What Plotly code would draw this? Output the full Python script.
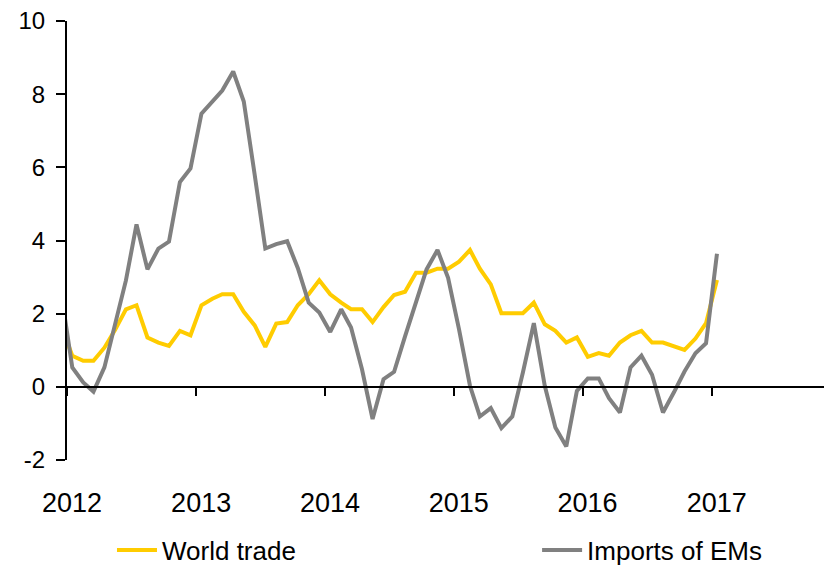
import pandas as pd
import plotly.graph_objects as go

# Monthly observations (mid-month), Dec 2011 .. Jan 2017
dates = pd.date_range("2011-12-01", "2017-01-01", freq="MS") + pd.Timedelta(days=15)

world_trade = [1.65,
    0.85, 0.71, 0.71, 1.07, 1.55, 2.12, 2.23, 1.35, 1.21, 1.12, 1.53, 1.41,
    2.23, 2.41, 2.53, 2.53, 2.05, 1.68, 1.09, 1.73, 1.77, 2.23, 2.53, 2.91,
    2.53, 2.30, 2.12, 2.12, 1.77, 2.18, 2.51, 2.60, 3.12, 3.12, 3.23, 3.23,
    3.42, 3.74, 3.23, 2.80, 2.01, 2.01, 2.01, 2.30, 1.71, 1.53, 1.21, 1.35,
    0.82, 0.92, 0.85, 1.21, 1.41, 1.53, 1.21, 1.21, 1.10, 1.01, 1.32, 1.74,
    2.92]

imports_ems = [2.53,
    0.53, 0.12, -0.13, 0.53, 1.70, 2.91, 4.44, 3.21, 3.78, 3.97, 5.60, 5.97,
    7.47, 7.80, 8.10, 8.62, 7.80, 5.79, 3.78, 3.90, 3.98, 3.25, 2.30, 2.03,
    1.50, 2.12, 1.62, 0.48, -0.88, 0.21, 0.41, 1.38, 2.35, 3.21, 3.74, 2.98,
    1.57, 0.03, -0.81, -0.58, -1.13, -0.81, 0.39, 1.74, 0.03, -1.11, -1.63, -0.11,
    0.23, 0.23, -0.31, -0.70, 0.53, 0.85, 0.33, -0.70, -0.15, 0.42, 0.92, 1.19,
    3.64]

year_ticks = ["2012-01-01", "2013-01-01", "2014-01-01", "2015-01-01", "2016-01-01", "2017-01-01"]
year_labels = ["2012", "2013", "2014", "2015", "2016", "2017"]
y_ticks = [-2, 0, 2, 4, 6, 8, 10]
y_labels = ["-2", "0", "2", "4", "6", "8", "10"]

FONT = "Liberation Sans, Arial, sans-serif"

fig = go.Figure()
fig.add_trace(go.Scatter(x=dates, y=world_trade, mode="lines", name="World trade",
                         line=dict(color="#FFCC00", width=4), legend="legend"))
fig.add_trace(go.Scatter(x=dates, y=imports_ems, mode="lines", name="Imports of EMs",
                         line=dict(color="#808080", width=4), legend="legend2"))

leg_common = dict(orientation="h", xanchor="left", y=-0.205, yanchor="middle",
                  font=dict(size=26, family=FONT), itemwidth=40,
                  bgcolor="rgba(0,0,0,0)", borderwidth=0)

# page body adds an 8px margin, so the figure is 8px smaller than the window
fig.update_layout(
    width=824, height=558,
    margin=dict(l=59, r=0, t=13, b=106, autoexpand=False),
    paper_bgcolor="white", plot_bgcolor="white",
    font=dict(family=FONT, size=26, color="black"),
    showlegend=True,
    legend=dict(x=0.0588, **leg_common),
    legend2=dict(x=0.6145, **leg_common),
    xaxis=dict(
        type="date", range=["2012-01-01", "2017-12-08"],
        tickvals=year_ticks, ticktext=year_labels,
        anchor="free", position=2/12,
        showline=True, linecolor="black", linewidth=2,
        ticks="outside", ticklen=8, tickwidth=2, tickcolor="black",
        ticklabelstandoff=84, ticklabelshift=5, ticklabeloverflow="allow",
        showgrid=False, zeroline=False,
        tickfont=dict(size=27),
    ),
    yaxis=dict(
        range=[-2, 10], tickvals=y_ticks, ticktext=y_labels,
        showline=True, linecolor="black", linewidth=2,
        ticks="outside", ticklen=9, tickwidth=2, tickcolor="black",
        ticklabelstandoff=6, ticklabeloverflow="allow",
        showgrid=False, zeroline=False,
        tickfont=dict(size=24),
    ),
)

fig.write_html("out.html")
